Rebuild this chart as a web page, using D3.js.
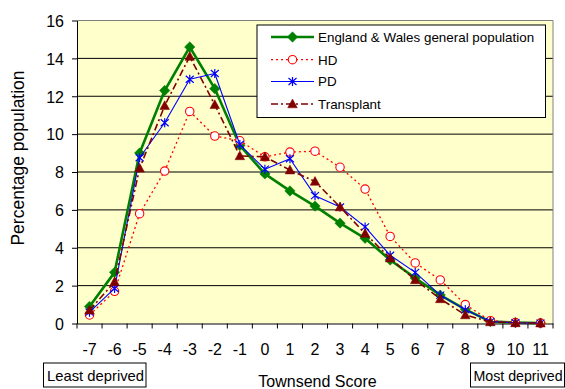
<!DOCTYPE html>
<html>
<head>
<meta charset="utf-8">
<script src="https://cdn.jsdelivr.net/npm/d3@7"></script>
<style>
  html, body { margin: 0; padding: 0; background: #ffffff; }
  svg { display: block; }
  text { font-family: "Liberation Sans", Arial, sans-serif; fill: #000; }
</style>
</head>
<body>
<svg id="chart" width="565" height="389"></svg>
<script>
// Townsend deprivation score bands
const categories = ["-7","-6","-5","-4","-3","-2","-1","0","1","2","3","4","5","6","7","8","9","10","11"];

// Percentage of each population in each score band
const englandWales = [0.9, 2.7, 9.0, 12.3, 14.6, 12.4, 9.4, 7.9, 7.0, 6.2, 5.3, 4.5, 3.35, 2.4, 1.5, 0.75, 0.1, 0.05, 0.02];
const hd           = [0.45, 1.7, 5.8, 8.05, 11.2, 9.9, 9.65, 8.8, 9.05, 9.1, 8.25, 7.1, 4.6, 3.2, 2.3, 1.0, 0.15, 0.05, 0.02];
const pd           = [0.6, 1.85, 8.75, 10.6, 12.9, 13.2, 9.45, 8.15, 8.7, 6.75, 6.15, 5.1, 3.6, 2.7, 1.5, 0.72, 0.1, 0.04, 0.02];
const transplant   = [0.7, 2.2, 8.2, 11.5, 14.1, 11.55, 8.85, 8.8, 8.1, 7.5, 6.15, 4.75, 3.45, 2.3, 1.3, 0.45, 0.08, 0.03, 0.02];

const seriesNames = ["England & Wales general population", "HD", "PD", "Transplant"];
const yTicks = [0, 2, 4, 6, 8, 10, 12, 14, 16];

const series = [
  { name: seriesNames[0], values: englandWales, color: "#008000", width: 2.6, dash: null, marker: "diamond" },
  { name: seriesNames[1], values: hd, color: "#FF0000", width: 1.3, dash: "2,3", marker: "circle" },
  { name: seriesNames[2], values: pd, color: "#0000FF", width: 1.1, dash: null, marker: "star" },
  { name: seriesNames[3], values: transplant, color: "#800000", width: 1.6, dash: "7,3,2,3", marker: "triangle" }
];

const svg = d3.select("#chart");
const plot = { left: 77, right: 553, top: 20.5, bottom: 323.5 };

const x = d3.scaleBand().domain(categories).range([plot.left, plot.right]).paddingInner(0).paddingOuter(0);
const y = d3.scaleLinear().domain([0, 16]).range([plot.bottom, plot.top]);
const cx = c => x(c) + x.bandwidth() / 2;

// plot area background
svg.append("rect")
  .attr("x", plot.left).attr("y", plot.top)
  .attr("width", plot.right - plot.left).attr("height", plot.bottom - plot.top)
  .attr("fill", "#FFFFCC");

// horizontal gridlines
svg.append("g").selectAll("line")
  .data(yTicks.filter(t => t > 0 && t < 16))
  .join("line")
  .attr("x1", plot.left).attr("x2", plot.right)
  .attr("y1", d => y(d)).attr("y2", d => y(d))
  .attr("stroke", "#000").attr("stroke-width", 1);

// top and right frame
svg.append("path")
  .attr("d", `M${plot.left},${y(16)}H${plot.right}V${plot.bottom}`)
  .attr("fill", "none").attr("stroke", "#808080").attr("stroke-width", 1);

// y axis
const yAxis = svg.append("g")
  .attr("transform", `translate(${plot.left},0)`)
  .call(d3.axisLeft(y).tickValues(yTicks).tickSize(5).tickPadding(8).tickSizeOuter(0));
yAxis.select(".domain").attr("stroke", "#000");
yAxis.selectAll(".tick line").attr("stroke", "#000");
yAxis.selectAll(".tick text")
  .attr("font-size", "16px")
  .attr("font-family", "'Liberation Sans', Arial, sans-serif")
  .attr("dy", "0.36em");

// x axis: labels centred in each band
const xAxis = svg.append("g")
  .attr("transform", `translate(0,${plot.bottom})`)
  .call(d3.axisBottom(x).tickSize(0).tickPadding(20).tickSizeOuter(0));
xAxis.select(".domain").attr("stroke", "#000");
xAxis.selectAll(".tick text")
  .attr("font-size", "16px")
  .attr("font-family", "'Liberation Sans', Arial, sans-serif");

// x tick marks at band boundaries
const boundaries = categories.map(c => x(c)).concat([x.range()[1]]);
svg.append("g").selectAll("line")
  .data(boundaries)
  .join("line")
  .attr("x1", d => d).attr("x2", d => d)
  .attr("y1", plot.bottom).attr("y2", plot.bottom + 5)
  .attr("stroke", "#000");

// marker drawing
function drawMarker(g, type, color) {
  if (type === "diamond") {
    g.append("path").attr("d", "M0,-5.2L5.2,0L0,5.2L-5.2,0Z").attr("fill", color).attr("stroke", color).attr("stroke-width", 0.5);
  } else if (type === "circle") {
    g.append("circle").attr("r", 4.2).attr("fill", "#FFFFFF").attr("stroke", color).attr("stroke-width", 1.1);
  } else if (type === "star") {
    g.append("path").attr("d", "M0,-4.5V4.5M-4,-3.5L4,3.5M-4,3.5L4,-3.5").attr("stroke", color).attr("stroke-width", 1.2).attr("fill", "none");
  } else if (type === "triangle") {
    g.append("path").attr("d", "M0,-5L4.8,3.8L-4.8,3.8Z").attr("fill", color).attr("stroke", color).attr("stroke-width", 0.5);
  }
}

const line = d3.line().x((d, i) => cx(categories[i])).y(d => y(d));

series.forEach(s => {
  const g = svg.append("g");
  g.append("path")
    .attr("d", line(s.values))
    .attr("fill", "none")
    .attr("stroke", s.color)
    .attr("stroke-width", s.width)
    .attr("stroke-dasharray", s.dash)
    .attr("stroke-linejoin", "round");
  s.values.forEach((v, i) => {
    const m = g.append("g").attr("transform", `translate(${cx(categories[i])},${y(v)})`);
    drawMarker(m, s.marker, s.color);
  });
});

// legend
const legend = svg.append("g");
legend.append("rect")
  .attr("x", 257).attr("y", 25).attr("width", 288.5).attr("height", 92.5)
  .attr("fill", "#FFFFFF").attr("stroke", "#000").attr("stroke-width", 1);
const legendRows = [37, 59.7, 81.5, 104];
series.forEach((s, i) => {
  const ly = legendRows[i];
  legend.append("line")
    .attr("x1", 271).attr("x2", 314).attr("y1", ly).attr("y2", ly)
    .attr("stroke", s.color).attr("stroke-width", s.width)
    .attr("stroke-dasharray", s.dash);
  drawMarker(legend.append("g").attr("transform", `translate(292.5,${ly})`), s.marker, s.color);
  legend.append("text")
    .attr("x", 318).attr("y", ly + 4.8)
    .attr("font-size", "13.4px")
    .text(s.name);
});

// y axis title
svg.append("text")
  .attr("transform", "translate(24,158) rotate(-90)")
  .attr("text-anchor", "middle")
  .attr("font-size", "17.5px")
  .text("Percentage population");

// x axis title
svg.append("text")
  .attr("x", 317.5).attr("y", 386.5)
  .attr("text-anchor", "middle")
  .attr("font-size", "16px")
  .text("Townsend Score");

// end-of-scale boxes
svg.append("rect").attr("x", 43.5).attr("y", 363).attr("width", 102.5).attr("height", 24)
  .attr("fill", "#FFFFFF").attr("stroke", "#000");
svg.append("text").attr("x", 47).attr("y", 380.5).attr("font-size", "14.8px").text("Least deprived");

svg.append("rect").attr("x", 470.5).attr("y", 363).attr("width", 94).attr("height", 24)
  .attr("fill", "#FFFFFF").attr("stroke", "#000");
svg.append("text").attr("x", 473.5).attr("y", 380.5).attr("font-size", "14.2px").text("Most deprived");
</script>
</body>
</html>
